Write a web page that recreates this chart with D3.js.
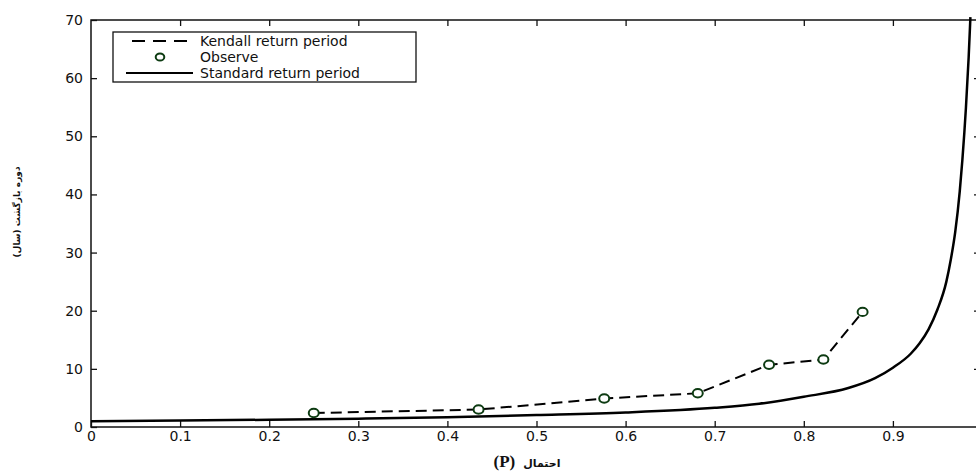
<!DOCTYPE html>
<html>
<head>
<meta charset="utf-8">
<script src="https://cdn.jsdelivr.net/npm/d3@7"></script>
<style>
  body { margin: 0; background: #fff; }
  svg { display: block; }
</style>
</head>
<body>
<div class="canvas"></div>
<script>
// observed points (Kendall return period goes through them)
var observeP = [0.25, 0.435, 0.576, 0.681, 0.761, 0.822, 0.866]
var observeT = [2.4, 3.0, 4.9, 5.8, 10.7, 11.6, 19.8]

// standard return period curve
var standardP = [0, 0.1, 0.2, 0.3, 0.4, 0.5, 0.6, 0.7, 0.75, 0.8, 0.85, 0.88, 0.9, 0.92, 0.93, 0.94, 0.95, 0.96, 0.965, 0.97, 0.975, 0.978, 0.982, 0.985, 0.987]
var standardT = [1, 1.1, 1.25, 1.43, 1.67, 2.05, 2.5, 3.3, 4.0, 5.2, 6.7, 8.4, 10.2, 12.6, 14.4, 16.8, 20.2, 25, 28.8, 33.6, 40.5, 46, 55, 63.5, 70.5]

var xTicks = [0, 0.1, 0.2, 0.3, 0.4, 0.5, 0.6, 0.7, 0.8, 0.9, 1]
var yTicks = [0, 10, 20, 30, 40, 50, 60, 70]

var legendLabels = ["Kendall return period", "Observe", "Standard return period"]

var width = 976, height = 471
var font = "'DejaVu Sans', Arial, sans-serif"

var svg = d3.select(".canvas")
  .append("svg")
  .attr("width", width)
  .attr("height", height)

svg.append("rect").attr("width", width).attr("height", height).attr("fill", "#fff")

var x = d3.scaleLinear().domain([0, 1]).range([91, 982])
var y = d3.scaleLinear().domain([0, 70]).range([427, 20])

// axes, ticks pointing inward like matlab
function styleAxis(g) {
  g.select(".domain").remove()
  g.selectAll(".tick line").attr("stroke", "#111").attr("stroke-width", 1.3)
  g.selectAll(".tick text").attr("fill", "#111").style("font-family", font).style("font-size", "14px")
}

svg.append("g")
  .attr("transform", "translate(0," + y(0) + ")")
  .call(d3.axisBottom(x).tickValues(xTicks.slice(0, 10)).tickFormat(d3.format("")).tickSizeInner(-6).tickSizeOuter(0).tickPadding(4))
  .call(styleAxis)

svg.append("g")
  .attr("transform", "translate(0," + y(70) + ")")
  .call(d3.axisTop(x).tickValues(xTicks.slice(1, 10)).tickFormat("").tickSizeInner(-6).tickSizeOuter(0))
  .call(styleAxis)

svg.append("g")
  .attr("transform", "translate(" + x(0) + ",0)")
  .call(d3.axisLeft(y).tickValues(yTicks).tickSizeInner(-6).tickSizeOuter(0).tickPadding(8))
  .call(styleAxis)

svg.append("g")
  .attr("transform", "translate(" + x(1) + ",0)")
  .call(d3.axisRight(y).tickValues(yTicks.slice(1, 7)).tickFormat("").tickSizeInner(-8).tickSizeOuter(0))
  .call(styleAxis)

// plot frame
svg.append("rect")
  .attr("x", x(0)).attr("y", y(70))
  .attr("width", x(1) - x(0)).attr("height", y(0) - y(70))
  .attr("fill", "none").attr("stroke", "#111").attr("stroke-width", 1.5)

var stdData = standardP.map(function(p, i) { return [p, standardT[i]] })
var obsData = observeP.map(function(p, i) { return [p, observeT[i]] })

var line = d3.line().x(d => x(d[0])).y(d => y(d[1]))

svg.append("path")
  .datum(stdData)
  .attr("d", line.curve(d3.curveMonotoneX))
  .attr("fill", "none")
  .attr("stroke", "#000")
  .attr("stroke-width", 2.5)

svg.append("path")
  .datum(obsData)
  .attr("d", d3.line().x(d => x(d[0])).y(d => y(d[1])))
  .attr("fill", "none")
  .attr("stroke", "#000")
  .attr("stroke-width", 2)
  .attr("stroke-dasharray", "11,6")

svg.selectAll("ellipse.obs")
  .data(obsData)
  .enter()
  .append("ellipse")
  .attr("class", "obs")
  .attr("cx", d => x(d[0]))
  .attr("cy", d => y(d[1]))
  .attr("rx", 5)
  .attr("ry", 4.2)
  .attr("fill", "#fff")
  .attr("stroke", "#0d3b12")
  .attr("stroke-width", 2)

// legend
var legend = svg.append("g")
legend.append("rect")
  .attr("x", 113).attr("y", 32).attr("width", 303).attr("height", 50)
  .attr("fill", "#fff").attr("stroke", "#111").attr("stroke-width", 1.3)

var rowY = [41, 57, 73]
legend.append("line")
  .attr("x1", 132).attr("x2", 187).attr("y1", rowY[0]).attr("y2", rowY[0])
  .attr("stroke", "#000").attr("stroke-width", 2).attr("stroke-dasharray", "13,8")
legend.append("ellipse")
  .attr("cx", 160).attr("cy", rowY[1]).attr("rx", 4.3).attr("ry", 3.6)
  .attr("fill", "#fff").attr("stroke", "#0d3b12").attr("stroke-width", 2)
legend.append("line")
  .attr("x1", 126).attr("x2", 193).attr("y1", rowY[2]).attr("y2", rowY[2])
  .attr("stroke", "#000").attr("stroke-width", 2)

legend.selectAll("text")
  .data(legendLabels)
  .enter()
  .append("text")
  .attr("x", 200)
  .attr("y", (d, i) => rowY[i])
  .attr("dy", "0.35em")
  .style("font-family", font)
  .style("font-size", "14px")
  .attr("fill", "#111")
  .text(d => d)

// axis titles (persian)
svg.append("text")
  .attr("transform", "translate(20,212) rotate(-90)")
  .attr("text-anchor", "middle")
  .attr("direction", "rtl")
  .style("font-family", "'DejaVu Sans', 'Noto Sans', sans-serif")
  .style("font-size", "9px")
  .style("font-weight", "bold")
  .attr("fill", "#111")
  .text("دوره بازگشت (سال)")

var xt = svg.append("text")
  .attr("x", 527)
  .attr("y", 467)
  .attr("text-anchor", "middle")
  .attr("fill", "#111")
  .style("font-weight", "bold")
xt.append("tspan")
  .style("font-family", "'Liberation Serif', serif")
  .style("font-size", "17px")
  .text("(P)")
xt.append("tspan")
  .attr("dx", 8)
  .style("font-family", "'DejaVu Sans', 'Noto Sans', sans-serif")
  .style("font-size", "11px")
  .text("احتمال")
</script>
</body>
</html>
